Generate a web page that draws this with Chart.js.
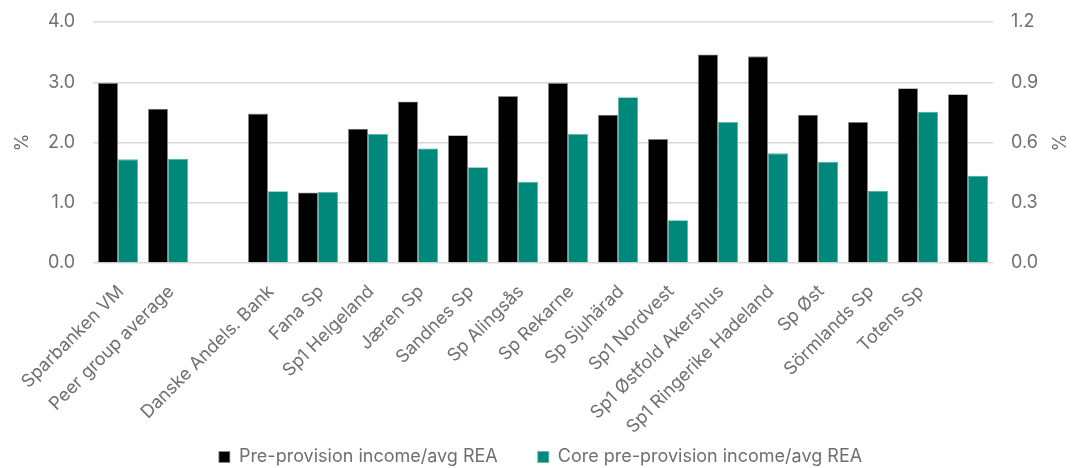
<!DOCTYPE html>
<html lang="en">
<head>
<meta charset="UTF-8">
<title>Pre-provision income</title>
<script src="https://cdn.jsdelivr.net/npm/chart.js"></script>
<style>
  html, body { margin: 0; padding: 0; background: #ffffff; }
  .chart-box { width: 1081px; height: 468px; position: relative; }
</style>
</head>
<body>
<div class="chart-box">
  <canvas id="myChart"></canvas>
</div>
<script>
// Banks (blank slot after the peer average, last slot has no label)
const banks = ['Sparbanken VM', 'Peer group average', '', 'Danske Andels. Bank', 'Fana Sp',
  'Sp1 Helgeland', 'Jæren Sp', 'Sandnes Sp', 'Sp Alingsås', 'Sp Rekarne', 'Sp Sjuhärad',
  'Sp1 Nordvest', 'Sp1 Østfold Akershus', 'Sp1 Ringerike Hadeland', 'Sp Øst', 'Sörmlands Sp',
  'Totens Sp', ''];

// % values
const preProvision = [2.99, 2.56, null, 2.48, 1.17, 2.23, 2.68, 2.12, 2.77, 2.99, 2.46,
  2.06, 3.46, 3.43, 2.46, 2.34, 2.90, 2.80];
const corePreProvision = [1.72, 1.73, null, 1.19, 1.18, 2.14, 1.90, 1.59, 1.35, 2.14, 2.75,
  0.71, 2.34, 1.82, 1.68, 1.20, 2.51, 1.45];

const leftTicks = [0, 1, 2, 3, 4];
const rightTicks = [0, 0.3, 0.6, 0.9, 1.2];

const grey = '#6f6f6f';
const font = 'Inter, "Open Sans", sans-serif';

// let the rotated x labels run below the axis box and drop the legend a little
const nudge = {
  id: 'nudge',
  afterLayout(chart) {
    chart.scales.x.bottom = chart.height;
    chart.legend.top += 8;
    chart.legend.bottom += 8;
  }
};

const ctx = document.getElementById('myChart').getContext('2d');
const myChart = new Chart(ctx, {
  type: 'bar',
  data: {
    labels: banks,
    datasets: [
      {
        label: 'Pre-provision income/avg REA',
        data: preProvision,
        backgroundColor: '#000000',
        borderColor: '#8c8c8c',
        borderWidth: 0.8,
        yAxisID: 'y'
      },
      {
        label: 'Core pre-provision income/avg REA',
        data: corePreProvision,
        backgroundColor: '#00897b',
        borderColor: '#5fb3a9',
        borderWidth: 0.8,
        yAxisID: 'y'
      }
    ]
  },
  plugins: [nudge],
  options: {
    responsive: true,
    maintainAspectRatio: false,
    animation: false,
    layout: { padding: { top: 0, left: 0, right: 0, bottom: 0 } },
    datasets: { bar: { categoryPercentage: 0.8, barPercentage: 1.0 } },
    plugins: {
      tooltip: { enabled: false },
      legend: {
        display: true,
        position: 'bottom',
        labels: {
          color: grey,
          font: { family: font, size: 18 },
          boxWidth: 11,
          boxHeight: 11,
          padding: 40
        }
      }
    },
    scales: {
      x: {
        grid: { display: false, drawTicks: false },
        border: { display: false },
        ticks: {
          color: grey,
          font: { family: font, size: 18 },
          autoSkip: false,
          minRotation: 45,
          maxRotation: 45,
          padding: 18,
          labelOffset: 3
        },
        afterFit: (scale) => {
          scale.height = 137;
          scale.paddingLeft = 0;
          scale.paddingRight = 0;
        }
      },
      y: {
        position: 'left',
        min: 0,
        max: 4,
        grid: { color: '#d9d9d9', lineWidth: 1.5, drawTicks: false },
        border: { display: false },
        afterBuildTicks: (scale) => { scale.ticks = leftTicks.map(v => ({ value: v })); },
        ticks: {
          color: grey,
          font: { family: font, size: 18 },
          padding: 18,
          callback: (v) => v.toFixed(1)
        },
        title: { display: true, text: '%', color: grey, font: { family: font, size: 18 }, padding: 12 },
        afterFit: (scale) => {
          scale.width = 93;
          scale.paddingTop = 22;
        }
      },
      y2: {
        display: true,
        position: 'right',
        min: 0,
        max: 1.2,
        grid: { display: false, drawTicks: false },
        border: { display: false },
        afterBuildTicks: (scale) => { scale.ticks = rightTicks.map(v => ({ value: v })); },
        ticks: {
          color: grey,
          font: { family: font, size: 18 },
          padding: 18,
          callback: (v) => v.toFixed(1)
        },
        title: { display: true, text: '%', color: grey, font: { family: font, size: 18 }, padding: 13 },
        afterFit: (scale) => {
          scale.width = 88;
          scale.paddingTop = 22;
        }
      }
    }
  }
});
</script>
</body>
</html>
